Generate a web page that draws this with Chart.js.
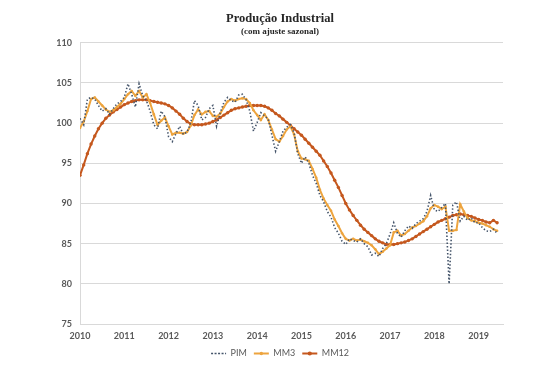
<!DOCTYPE html>
<html>
<head>
<meta charset="utf-8">
<script src="https://cdn.jsdelivr.net/npm/chart.js@4"></script>
<style>
  html, body { margin: 0; padding: 0; background: #fff; }
  #box { width: 550px; height: 374px; }
</style>
</head>
<body>
<div id="box"><canvas id="grafico" width="550" height="374"></canvas></div>
<script>
// serie mensal de jan/2010 a jun/2019
var inicio = 2010;
var anos = [2010, 2011, 2012, 2013, 2014, 2015, 2016, 2017, 2018, 2019];

var pim = [
  100.6, 99.8, 103.0, 103.2, 103.0, 102.2, 101.5, 101.8, 101.1, 101.8, 102.4, 102.7,
  103.2, 104.9, 103.6, 102.0, 104.9, 103.4, 102.8, 101.5, 99.8, 99.3, 101.5, 100.8,
  98.3, 97.7, 98.7, 99.6, 98.6, 98.9, 100.0, 102.8, 102.2, 100.4, 100.7, 101.8,
  102.2, 99.6, 101.3, 102.6, 103.2, 102.8, 102.6, 103.5, 103.6, 102.9, 101.5, 99.0,
  100.1, 101.3, 100.9, 100.5, 98.5, 96.5, 97.7, 99.0, 99.5, 99.8, 98.8, 96.2,
  95.0, 95.8, 95.0, 93.5, 92.5, 91.0, 90.2, 89.0, 88.3, 87.0, 86.3, 85.3,
  84.9, 85.6, 85.4, 85.2, 85.6, 85.0, 84.6, 83.6, 83.8, 83.4, 84.4, 85.0,
  86.2, 87.6, 86.3, 85.8, 86.6, 87.2, 86.9, 87.5, 87.8, 88.1, 89.0, 91.0,
  89.2, 89.0, 89.5, 90.0, 80.0, 89.8, 90.2, 87.8, 88.4, 87.9, 88.2, 87.6,
  87.6, 87.0, 86.6, 86.5, 86.8, 86.3
];

var mm3 = [
  99.4, 100.2, 101.5, 103.0, 103.2, 102.7, 102.2, 101.7, 101.4, 101.6, 102.0, 102.4,
  103.0, 103.6, 104.0, 103.4, 104.0, 103.2, 103.6, 102.5, 101.1, 99.8, 100.3, 100.7,
  99.6, 98.6, 98.8, 98.8, 98.7, 98.9, 99.7, 101.0, 101.7, 101.1, 101.4, 101.5,
  100.9, 100.8, 101.2, 102.0, 102.7, 103.0, 102.8, 103.0, 103.1, 103.0, 102.5, 101.6,
  101.0, 100.4, 101.1, 100.4, 99.2, 98.0, 97.7, 98.4, 99.2, 99.6, 98.6, 96.5,
  95.6, 95.5, 95.3, 94.3, 93.2, 91.7, 90.6, 89.8, 89.1, 88.0, 87.2, 86.3,
  85.6, 85.4, 85.6, 85.4, 85.5, 85.3, 85.1, 84.8, 84.3, 83.7, 84.0, 84.4,
  84.8, 86.4, 86.6, 86.0, 86.2, 86.6, 87.0, 87.2, 87.5, 87.8, 88.4, 89.4,
  89.8, 89.6, 89.3, 89.6, 86.6, 86.6, 86.7, 89.9, 89.0, 88.2, 87.9, 87.8,
  87.6, 87.5, 87.3, 87.1, 86.8, 86.6
];

var mm12 = [
  93.5, 94.8, 96.2, 97.4, 98.4, 99.3, 100.0, 100.6, 101.0, 101.4, 101.7, 102.0,
  102.3, 102.5, 102.7, 102.8, 102.9, 102.9, 102.9, 102.8, 102.7, 102.6, 102.5, 102.4,
  102.2, 101.9, 101.5, 101.1, 100.6, 100.2, 99.9, 99.8, 99.8, 99.8, 99.9, 100.0,
  100.2, 100.4, 100.7, 101.0, 101.3, 101.6, 101.8, 101.9, 102.0, 102.1, 102.2, 102.2,
  102.2, 102.2, 102.1, 101.9, 101.6, 101.2, 100.9, 100.5, 100.1, 99.7, 99.3, 98.9,
  98.5, 98.0, 97.5, 97.0, 96.5, 96.0, 95.3, 94.6, 93.8, 92.9, 92.0, 91.0,
  90.0, 89.2, 88.5, 87.9, 87.3, 86.8, 86.4, 86.0, 85.6, 85.3, 85.1, 84.9,
  84.9, 84.9, 85.0, 85.1, 85.2, 85.4, 85.6, 85.9, 86.2, 86.5, 86.8, 87.1,
  87.4, 87.7, 87.9, 88.1, 88.3, 88.5, 88.6, 88.7, 88.6, 88.5, 88.4, 88.2,
  88.0, 87.9, 87.7, 87.6, 87.9, 87.6
];

var corPim = "#44546A";
var corMM3 = "#EDA43E";
var corMM12 = "#C5581E";
var cinza = "#595959";

function pontos(serie) {
  return serie.map(function (v, i) {
    return { x: inicio + i / 12, y: v };
  });
}

// bolinha no meio da linha da legenda (MM3 e MM12)
var marcaLegenda = {
  id: "marcaLegenda",
  afterDraw: function (chart) {
    var legend = chart.legend;
    if (!legend || !legend.legendHitBoxes) return;
    var ctx = chart.ctx;
    var bw = legend.options.labels.boxWidth;
    legend.legendHitBoxes.forEach(function (hb, i) {
      var ds = chart.data.datasets[i];
      if (!ds.pointRadius) return;
      ctx.save();
      ctx.fillStyle = ds.borderColor;
      ctx.beginPath();
      ctx.arc(hb.left + bw / 2, hb.top + hb.height / 2, ds.pointRadius + 0.4, 0, Math.PI * 2);
      ctx.fill();
      ctx.restore();
    });
  }
};

var config = {
  type: "line",
  data: {
    datasets: [
      {
        label: "PIM",
        data: pontos(pim),
        borderColor: corPim,
        backgroundColor: corPim,
        borderWidth: 1.6,
        borderDash: [1.4, 2.1],
        pointRadius: 0,
        tension: 0
      },
      {
        label: "MM3",
        data: pontos(mm3),
        borderColor: corMM3,
        backgroundColor: corMM3,
        borderWidth: 2,
        pointRadius: 1.3,
        pointBorderWidth: 0,
        pointBackgroundColor: corMM3,
        tension: 0
      },
      {
        label: "MM12",
        data: pontos(mm12),
        borderColor: corMM12,
        backgroundColor: corMM12,
        borderWidth: 2,
        pointRadius: 1.7,
        pointBorderWidth: 0,
        pointBackgroundColor: corMM12,
        tension: 0
      }
    ]
  },
  options: {
    responsive: false,
    animation: false,
    layout: { padding: { left: 57, right: 47, top: 0, bottom: 6 } },
    plugins: {
      title: {
        display: true,
        text: "Produção Industrial",
        color: "#262626",
        font: { family: "Liberation Serif", size: 12.5, weight: "bold" },
        padding: { top: 11, bottom: 0 }
      },
      subtitle: {
        display: true,
        text: "(com ajuste sazonal)",
        color: "#262626",
        font: { family: "Liberation Serif", size: 9, weight: "bold" },
        padding: { top: 0, bottom: 6 }
      },
      legend: {
        position: "bottom",
        labels: {
          boxWidth: 15,
          boxHeight: 0,
          padding: 7,
          color: cinza,
          font: { family: "Lato", size: 9 }
        }
      },
      tooltip: { enabled: false }
    },
    scales: {
      x: {
        type: "linear",
        min: 2010,
        max: 2019.55,
        afterBuildTicks: function (scale) {
          scale.ticks = anos.map(function (a) { return { value: a }; });
        },
        afterFit: function (scale) { scale.height = 18; },
        grid: { display: false, drawTicks: false },
        border: { display: true, color: "#D9D9D9" },
        ticks: {
          padding: 7,
          color: cinza,
          autoSkip: false,
          maxRotation: 0,
          font: { family: "Lato", size: 9, weight: "bold" },
          callback: function (v) { return String(v); }
        }
      },
      y: {
        min: 75,
        max: 110,
        afterFit: function (scale) { scale.width = 23; },
        grid: { color: "#D9D9D9", drawTicks: false },
        border: { display: true, color: "#D9D9D9" },
        ticks: {
          stepSize: 5,
          padding: 8,
          color: cinza,
          font: { family: "Lato", size: 9, weight: "bold" }
        }
      }
    }
  },
  plugins: [marcaLegenda]
};

var grafico = new Chart(document.getElementById("grafico"), config);
</script>
</body>
</html>
